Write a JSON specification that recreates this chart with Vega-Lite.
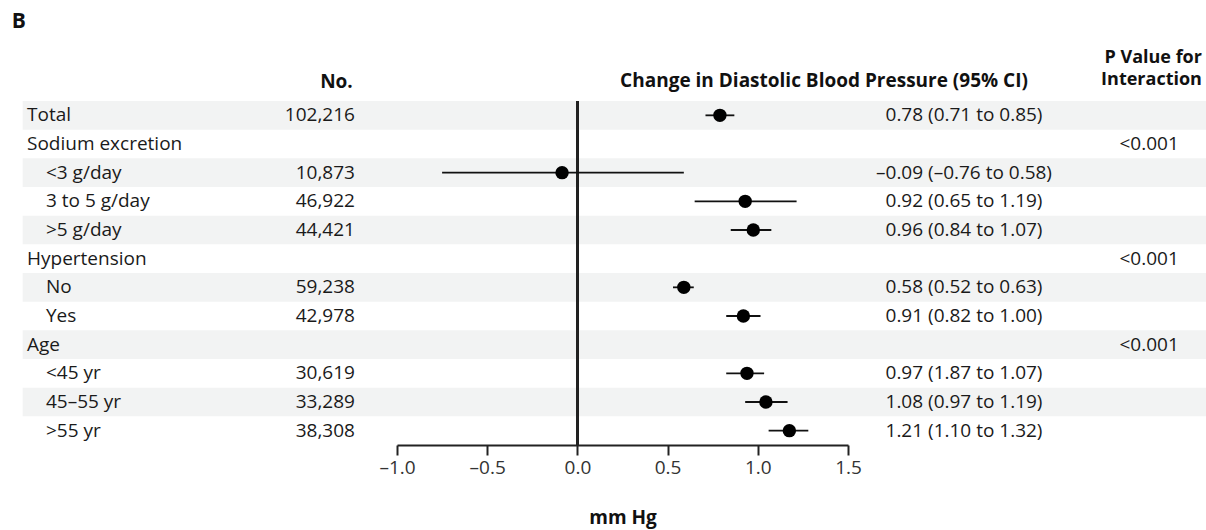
{
  "$schema": "https://vega.github.io/schema/vega-lite/v6.json",
  "width": 451,
  "height": 344,
  "autosize": {"type": "none"},
  "padding": {"left": 397, "top": 101, "right": 358, "bottom": 85},
  "background": "white",
  "config": {
    "view": {"stroke": null},
    "text": {"font": "Open Sans", "fontSize": 19, "color": "#1a1a1a", "baseline": "middle"}
  },
  "datasets": {
    "rows": [
      {"row": "Total", "level": "group", "n": "102,216", "est": 0.79, "lo": 0.71, "hi": 0.87, "ci": "0.78 (0.71 to 0.85)"},
      {"row": "Sodium excretion", "level": "group", "p": "<0.001"},
      {"row": "<3 g/day", "level": "sub", "n": "10,873", "est": -0.085, "lo": -0.75, "hi": 0.59, "ci": "–0.09 (–0.76 to 0.58)"},
      {"row": "3 to 5 g/day", "level": "sub", "n": "46,922", "est": 0.93, "lo": 0.65, "hi": 1.215, "ci": "0.92 (0.65 to 1.19)"},
      {"row": ">5 g/day", "level": "sub", "n": "44,421", "est": 0.975, "lo": 0.85, "hi": 1.075, "ci": "0.96 (0.84 to 1.07)"},
      {"row": "Hypertension", "level": "group", "p": "<0.001"},
      {"row": "No", "level": "sub", "n": "59,238", "est": 0.59, "lo": 0.53, "hi": 0.645, "ci": "0.58 (0.52 to 0.63)"},
      {"row": "Yes", "level": "sub", "n": "42,978", "est": 0.92, "lo": 0.825, "hi": 1.015, "ci": "0.91 (0.82 to 1.00)"},
      {"row": "Age", "level": "group", "p": "<0.001"},
      {"row": "<45 yr", "level": "sub", "n": "30,619", "est": 0.94, "lo": 0.825, "hi": 1.035, "ci": "0.97 (1.87 to 1.07)"},
      {"row": "45–55 yr", "level": "sub", "n": "33,289", "est": 1.045, "lo": 0.93, "hi": 1.165, "ci": "1.08 (0.97 to 1.19)"},
      {"row": ">55 yr", "level": "sub", "n": "38,308", "est": 1.175, "lo": 1.06, "hi": 1.28, "ci": "1.21 (1.10 to 1.32)"}
    ],
    "headers": [
      {"key": "panel", "label": "B"},
      {"key": "no", "label": "No."},
      {"key": "change", "label": "Change in Diastolic Blood Pressure (95% CI)"},
      {"key": "p1", "label": "P Value for"},
      {"key": "p2", "label": "Interaction"}
    ]
  },
  "data": {"name": "rows"},
  "layer": [
    {
      "transform": [
        {"window": [{"op": "row_number", "as": "idx"}]},
        {"filter": "datum.idx % 2 == 1"}
      ],
      "mark": {"type": "rect", "color": "#f2f3f3"},
      "encoding": {
        "x": {"datum": -3.075, "type": "quantitative", "title": "mm Hg", "scale": {"domain": [-1, 1.5], "nice": false, "zero": false}},
        "x2": {"datum": 3.49},
        "y": {"field": "row", "type": "nominal", "axis": null, "scale": {"domain": ["Total", "Sodium excretion", "<3 g/day", "3 to 5 g/day", ">5 g/day", "Hypertension", "No", "Yes", "Age", "<45 yr", "45–55 yr", ">55 yr"], "paddingInner": 0, "paddingOuter": 0}}
      }
    },
    {
      "mark": {"type": "rule", "color": "#222", "strokeWidth": 2},
      "encoding": {
        "x": {"datum": 0, "type": "quantitative", "title": "mm Hg"}
      }
    },
    {
      "transform": [{"filter": "isValid(datum.est)"}],
      "mark": {"type": "rule", "color": "#111", "strokeWidth": 1.8},
      "encoding": {
        "x": {"field": "lo", "type": "quantitative", "title": "mm Hg"},
        "x2": {"field": "hi"},
        "y": {"field": "row", "type": "nominal", "axis": null}
      }
    },
    {
      "transform": [{"filter": "isValid(datum.est)"}],
      "mark": {"type": "point", "filled": true, "shape": "circle", "size": 180, "color": "#000", "opacity": 1},
      "encoding": {
        "x": {
          "field": "est", "type": "quantitative", "title": "mm Hg",
          "scale": {"domain": [-1, 1.5], "nice": false, "zero": false},
          "axis": {
            "values": [-1, -0.5, 0, 0.5, 1, 1.5],
            "labelExpr": "datum.value < 0 ? '–' + format(-datum.value, '.1f') : format(datum.value, '.1f')",
            "grid": false,
            "domainColor": "#222", "domainWidth": 2,
            "tickColor": "#222", "tickWidth": 2, "tickSize": 10,
            "labelFont": "Open Sans", "labelFontSize": 19, "labelColor": "#333", "labelPadding": 3,
            "labelFlush": false,
            "titleFont": "Open Sans", "titleFontSize": 19, "titleFontWeight": "bold", "titleColor": "#111", "titlePadding": 31
          }
        },
        "y": {"field": "row", "type": "nominal", "axis": null}
      }
    },
    {
      "transform": [{"filter": "datum.level == 'group'"}],
      "mark": {"type": "text", "align": "left"},
      "encoding": {
        "x": {"datum": -3.051, "type": "quantitative", "title": "mm Hg"},
        "y": {"field": "row", "type": "nominal", "axis": null},
        "text": {"field": "row"}
      }
    },
    {
      "transform": [{"filter": "datum.level == 'sub'"}],
      "mark": {"type": "text", "align": "left"},
      "encoding": {
        "x": {"datum": -2.946, "type": "quantitative", "title": "mm Hg"},
        "y": {"field": "row", "type": "nominal", "axis": null},
        "text": {"field": "row"}
      }
    },
    {
      "transform": [{"filter": "isValid(datum.n)"}],
      "mark": {"type": "text", "align": "right"},
      "encoding": {
        "x": {"datum": -1.233, "type": "quantitative", "title": "mm Hg"},
        "y": {"field": "row", "type": "nominal", "axis": null},
        "text": {"field": "n"}
      }
    },
    {
      "transform": [{"filter": "isValid(datum.ci)"}],
      "mark": {"type": "text", "align": "center"},
      "encoding": {
        "x": {"datum": 2.143, "type": "quantitative", "title": "mm Hg"},
        "y": {"field": "row", "type": "nominal", "axis": null},
        "text": {"field": "ci"}
      }
    },
    {
      "transform": [{"filter": "isValid(datum.p)"}],
      "mark": {"type": "text", "align": "center"},
      "encoding": {
        "x": {"datum": 3.169, "type": "quantitative", "title": "mm Hg"},
        "y": {"field": "row", "type": "nominal", "axis": null},
        "text": {"field": "p"}
      }
    },
    {
      "data": {"name": "headers"},
      "transform": [{"filter": "datum.key == 'panel'"}],
      "mark": {"type": "text", "align": "left", "fontWeight": "bold", "fontSize": 21, "dy": -93, "color": "#111"},
      "encoding": {
        "x": {"datum": -3.135, "type": "quantitative", "title": "mm Hg"},
        "y": {"datum": "Total", "type": "nominal", "axis": null},
        "text": {"field": "label"}
      }
    },
    {
      "data": {"name": "headers"},
      "transform": [{"filter": "datum.key == 'no'"}],
      "mark": {"type": "text", "align": "right", "fontWeight": "bold", "dy": -33, "color": "#111"},
      "encoding": {
        "x": {"datum": -1.245, "type": "quantitative", "title": "mm Hg"},
        "y": {"datum": "Total", "type": "nominal", "axis": null},
        "text": {"field": "label"}
      }
    },
    {
      "data": {"name": "headers"},
      "transform": [{"filter": "datum.key == 'change'"}],
      "mark": {"type": "text", "align": "center", "fontWeight": "bold", "dy": -34, "color": "#111"},
      "encoding": {
        "x": {"datum": 1.367, "type": "quantitative", "title": "mm Hg"},
        "y": {"datum": "Total", "type": "nominal", "axis": null},
        "text": {"field": "label"}
      }
    },
    {
      "data": {"name": "headers"},
      "transform": [{"filter": "datum.key == 'p1'"}],
      "mark": {"type": "text", "align": "right", "fontWeight": "bold", "fontSize": 18, "dy": -57, "color": "#111"},
      "encoding": {
        "x": {"datum": 3.462, "type": "quantitative", "title": "mm Hg"},
        "y": {"datum": "Total", "type": "nominal", "axis": null},
        "text": {"field": "label"}
      }
    },
    {
      "data": {"name": "headers"},
      "transform": [{"filter": "datum.key == 'p2'"}],
      "mark": {"type": "text", "align": "right", "fontWeight": "bold", "fontSize": 18, "dy": -35, "color": "#111"},
      "encoding": {
        "x": {"datum": 3.462, "type": "quantitative", "title": "mm Hg"},
        "y": {"datum": "Total", "type": "nominal", "axis": null},
        "text": {"field": "label"}
      }
    }
  ]
}
